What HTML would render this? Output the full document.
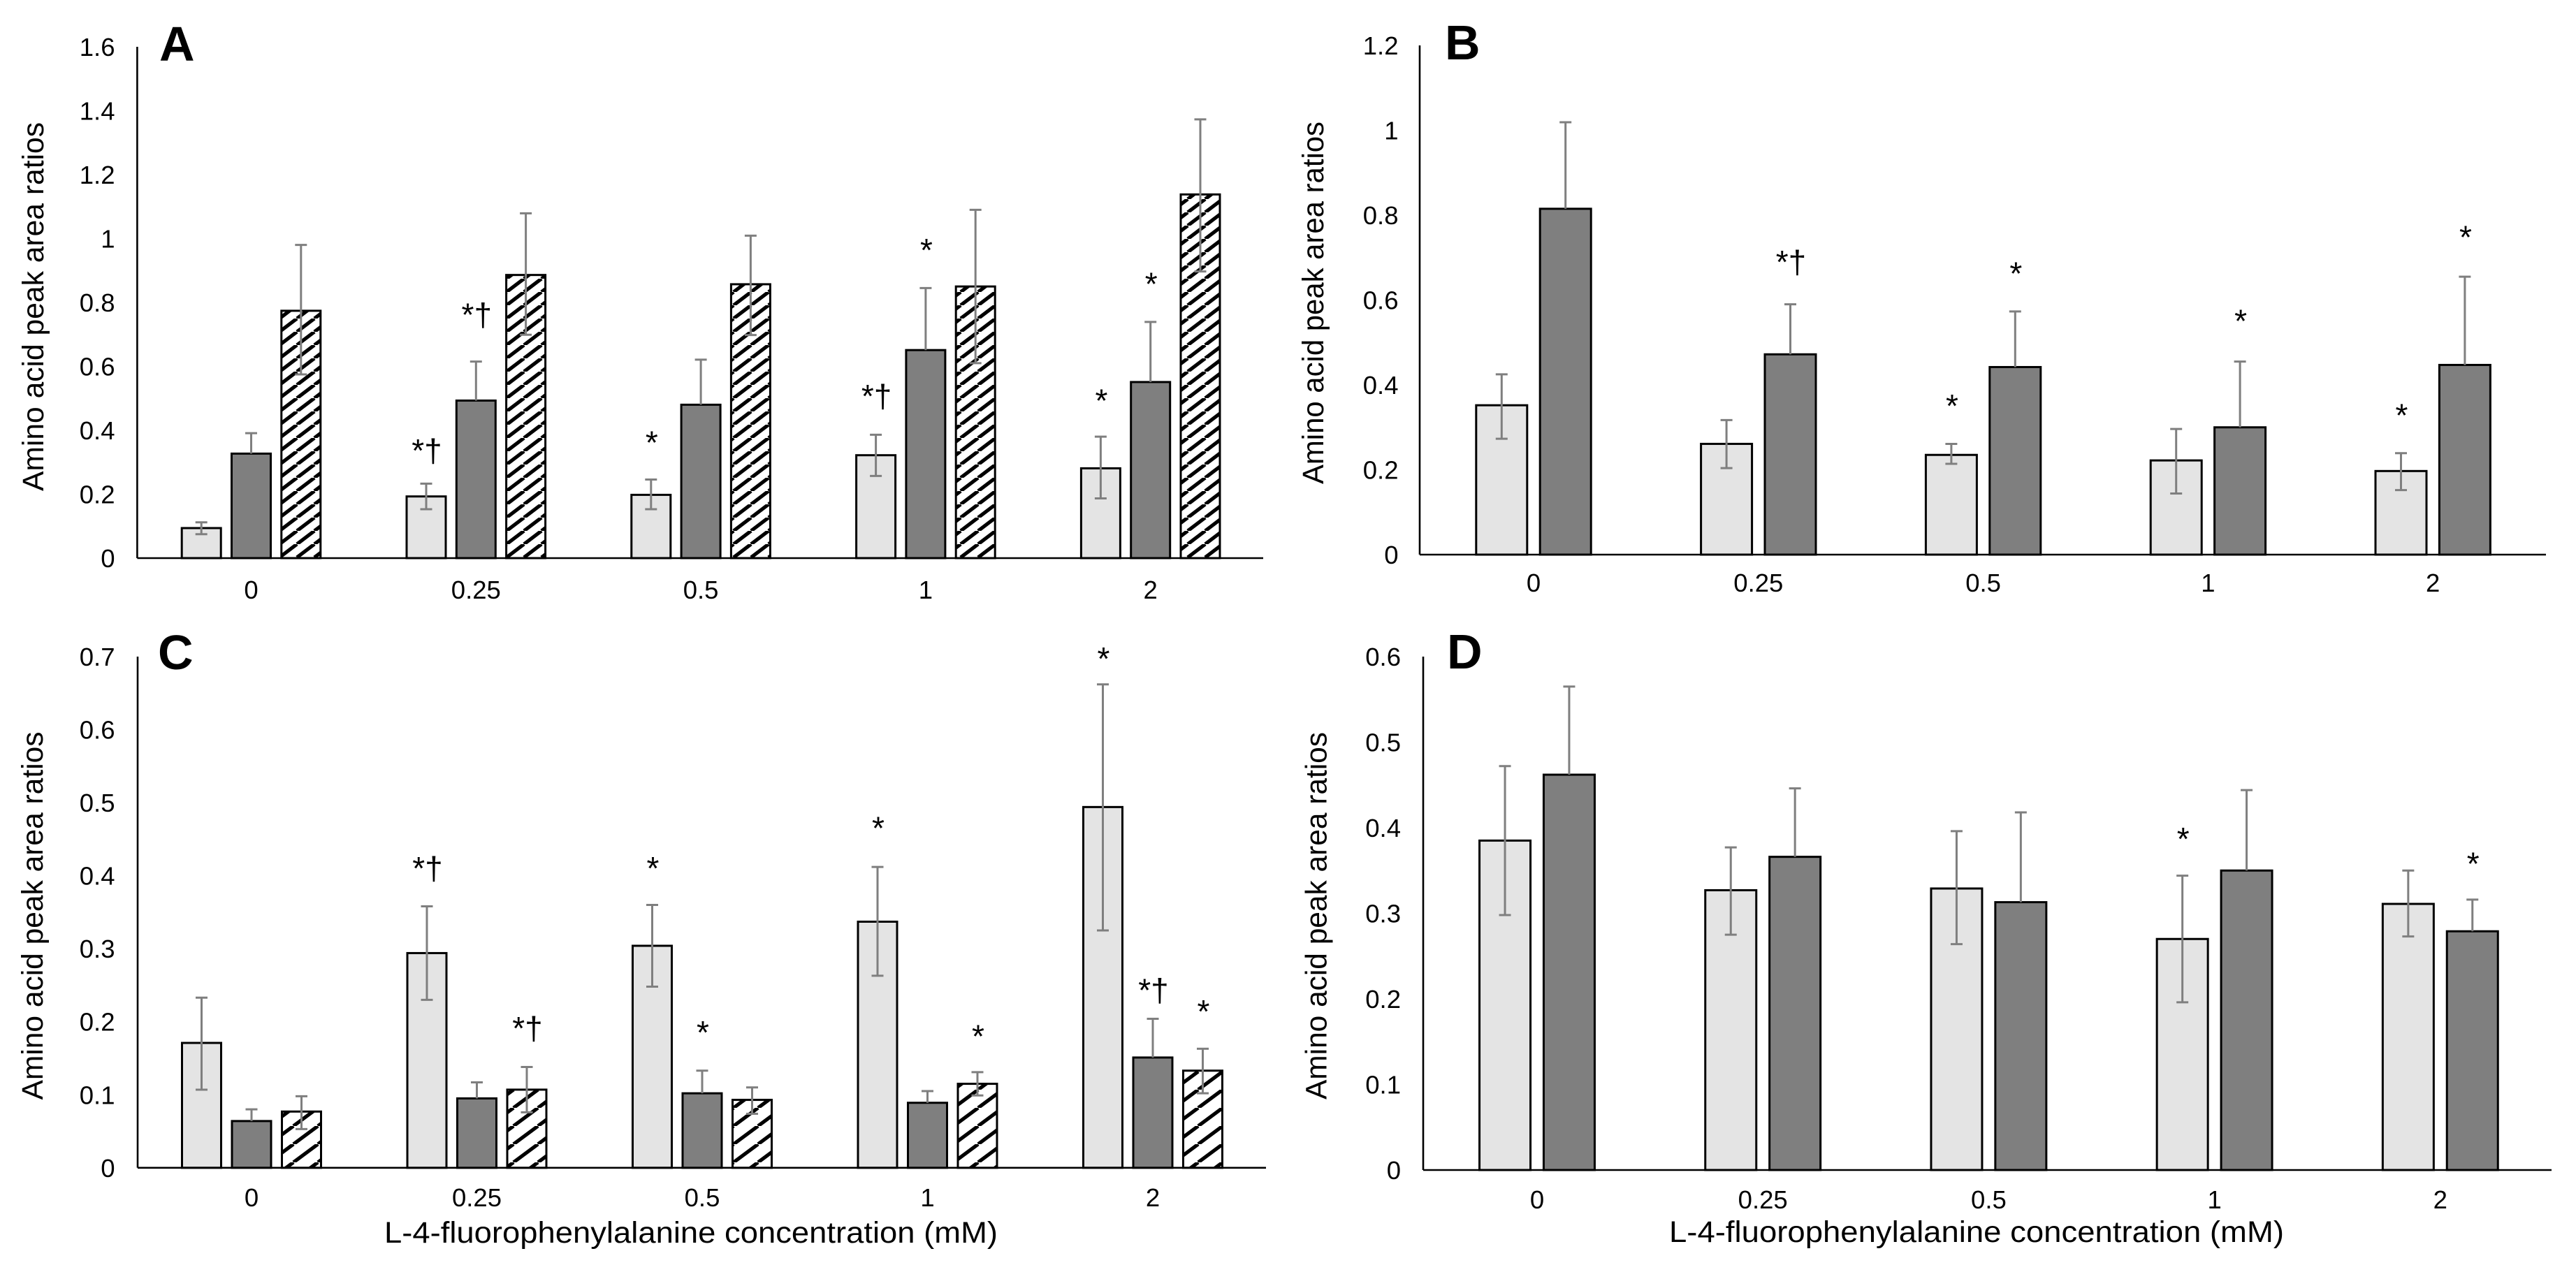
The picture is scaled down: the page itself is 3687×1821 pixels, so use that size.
<!DOCTYPE html>
<html lang="en">
<head>
<meta charset="utf-8">
<title>Amino acid peak area ratios</title>
<style>
html,body{margin:0;padding:0;background:#fff;width:3687px;height:1821px;overflow:hidden}
svg{display:block}
text{font-family:"Liberation Sans",Arial,sans-serif;fill:#000}
</style>
</head>
<body>
<svg id="figure" xmlns="http://www.w3.org/2000/svg" width="3687" height="1821" viewBox="0 0 3687 1821">
<rect x="0" y="0" width="3687" height="1821" fill="#fff"/>
<defs>
<pattern id="hatch-top" patternUnits="userSpaceOnUse" width="25" height="19"><rect width="25" height="19" fill="#fff"/><path d="M-25,19 L0,0 M0,19 L25,0 M25,19 L50,0" stroke="#000" stroke-width="5.2" fill="none"/></pattern>
<pattern id="hatch-bottom" patternUnits="userSpaceOnUse" width="35" height="26"><rect width="35" height="26" fill="#fff"/><path d="M-35,26 L0,0 M0,26 L35,0 M35,26 L70,0" stroke="#000" stroke-width="5.2" fill="none"/></pattern>
</defs>
</svg>
<script>
// Shared category labels
const concentrations = ['0', '0.25', '0.5', '1', '2'];

// Panel A
const aTicks = ['0', '0.2', '0.4', '0.6', '0.8', '1', '1.2', '1.4', '1.6'];
const aLight = [0.094, 0.193, 0.198, 0.322, 0.281];
const aLightHi = [0.112, 0.233, 0.246, 0.386, 0.380];
const aLightLo = [0.075, 0.153, 0.153, 0.257, 0.187];
const aDark = [0.327, 0.493, 0.480, 0.651, 0.551];
const aDarkHi = [0.391, 0.615, 0.621, 0.845, 0.739];
const aHatch = [0.774, 0.886, 0.857, 0.850, 1.138];
const aHatchHi = [0.980, 1.079, 1.009, 1.090, 1.373];
const aHatchLo = [0.575, 0.699, 0.698, 0.610, 0.897];
const aMarks = ['', '*†', '*', '*†', '*'];
const aMarkLevels = [0, 0.341, 0.373, 0.511, 0.504];
const aDarkMarks = ['', '*†', '', '*', '*'];
const aDarkMarkLevels = [0, 0.766, 0, 0.975, 0.869];

// Panel B
const bTicks = ['0', '0.2', '0.4', '0.6', '0.8', '1', '1.2'];
const bLight = [0.352, 0.261, 0.235, 0.222, 0.197];
const bLightHi = [0.425, 0.317, 0.261, 0.296, 0.239];
const bLightLo = [0.273, 0.204, 0.214, 0.144, 0.152];
const bDark = [0.815, 0.472, 0.442, 0.300, 0.447];
const bDarkHi = [1.019, 0.590, 0.573, 0.455, 0.655];
const bMarks = ['', '', '*', '', '*'];
const bMarkLevels = [0, 0, 0.359, 0, 0.337];
const bDarkMarks = ['', '*†', '*', '*', '*'];
const bDarkMarkLevels = [0, 0.693, 0.671, 0.559, 0.756];

// Panel C
const cTicks = ['0', '0.1', '0.2', '0.3', '0.4', '0.5', '0.6', '0.7'];
const cLight = [0.171, 0.294, 0.304, 0.337, 0.494];
const cLightHi = [0.233, 0.358, 0.360, 0.412, 0.662];
const cLightLo = [0.107, 0.230, 0.248, 0.263, 0.325];
const cDark = [0.064, 0.095, 0.102, 0.089, 0.151];
const cDarkHi = [0.080, 0.117, 0.133, 0.105, 0.204];
const cHatch = [0.077, 0.107, 0.093, 0.115, 0.133];
const cHatchHi = [0.098, 0.138, 0.110, 0.131, 0.163];
const cHatchLo = [0.053, 0.076, 0.074, 0.099, 0.102];
const cMarks = ['', '*†', '*', '*', '*'];
const cMarkLevels = [0, 0.412, 0.415, 0.470, 0.702];
const cDarkMarks = ['', '', '*', '', '*†'];
const cDarkMarkLevels = [0, 0, 0.190, 0, 0.245];
const cHatchMarks = ['', '*†', '', '*', '*'];
const cHatchMarkLevels = [0, 0.193, 0, 0.185, 0.219];

// Panel D
const dTicks = ['0', '0.1', '0.2', '0.3', '0.4', '0.5', '0.6'];
const dLight = [0.385, 0.327, 0.329, 0.270, 0.311];
const dLightHi = [0.472, 0.377, 0.396, 0.344, 0.350];
const dLightLo = [0.298, 0.275, 0.264, 0.196, 0.273];
const dDark = [0.462, 0.366, 0.313, 0.350, 0.279];
const dDarkHi = [0.565, 0.446, 0.418, 0.444, 0.316];
const dMarks = ['', '', '', '*', ''];
const dMarkLevels = [0, 0, 0, 0.391, 0];
const dDarkMarks = ['', '', '', '', '*'];
const dDarkMarkLevels = [0, 0, 0, 0, 0.362];

const svg = document.getElementById('figure');
const NS = 'http://www.w3.org/2000/svg';
function make(tag, attrs, parent) {
  const el = document.createElementNS(NS, tag);
  for (const k in attrs) el.setAttribute(k, attrs[k]);
  parent.appendChild(el);
  return el;
}

const charts = [
  { id: 'a', letter: 'A', letterX: 228, letterY: 87, axisX: 196.4, top: 67, base: 799, end: 1808, tickRight: 164.5, first: 359.5, step: 321.8, barStep: 71.3, barW: 56, labelDy: 58, yMax: 1.6, ticks: aTicks, titleX: 62, titleY: 439, titleLen: 528, hatchId: 'hatch-top',
    series: [
      { key: 'light', fill: '#e4e4e4', vals: aLight, hi: aLightHi, lo: aLightLo, marks: aMarks, levels: aMarkLevels },
      { key: 'dark', fill: '#7f7f7f', vals: aDark, hi: aDarkHi, lo: null, marks: aDarkMarks, levels: aDarkMarkLevels },
      { key: 'hatched', fill: 'url(#hatch-top)', vals: aHatch, hi: aHatchHi, lo: aHatchLo, marks: null, levels: null }
    ] },
  { id: 'b', letter: 'B', letterX: 2068, letterY: 85, axisX: 2032, top: 65, base: 794, end: 3644, tickRight: 2001.5, first: 2195, step: 321.8, barStep: 91.4, barW: 73, labelDy: 53, yMax: 1.2, ticks: bTicks, titleX: 1893.8, titleY: 433.5, titleLen: 519,
    series: [
      { key: 'light', fill: '#e4e4e4', vals: bLight, hi: bLightHi, lo: bLightLo, marks: bMarks, levels: bMarkLevels },
      { key: 'dark', fill: '#7f7f7f', vals: bDark, hi: bDarkHi, lo: null, marks: bDarkMarks, levels: bDarkMarkLevels }
    ] },
  { id: 'c', letter: 'C', letterX: 226, letterY: 958, axisX: 197, top: 940, base: 1671.8, end: 1812, tickRight: 164.5, first: 360, step: 322.5, barStep: 71.5, barW: 56, labelDy: 55, yMax: 0.7, ticks: cTicks, titleX: 61, titleY: 1311, titleLen: 527,
    series: [
      { key: 'light', fill: '#e4e4e4', vals: cLight, hi: cLightHi, lo: cLightLo, marks: cMarks, levels: cMarkLevels },
      { key: 'dark', fill: '#7f7f7f', vals: cDark, hi: cDarkHi, lo: null, marks: cDarkMarks, levels: cDarkMarkLevels },
      { key: 'hatched', fill: 'url(#hatch-bottom)', vals: cHatch, hi: cHatchHi, lo: cHatchLo, marks: cHatchMarks, levels: cHatchMarkLevels }
    ] },
  { id: 'd', letter: 'D', letterX: 2071, letterY: 957, axisX: 2037, top: 940, base: 1675, end: 3652, tickRight: 2005, first: 2200, step: 323.2, barStep: 91.9, barW: 73, labelDy: 55, yMax: 0.6, ticks: dTicks, titleX: 1898.7, titleY: 1311, titleLen: 526,
    series: [
      { key: 'light', fill: '#e4e4e4', vals: dLight, hi: dLightHi, lo: dLightLo, marks: dMarks, levels: dMarkLevels },
      { key: 'dark', fill: '#7f7f7f', vals: dDark, hi: dDarkHi, lo: null, marks: dDarkMarks, levels: dDarkMarkLevels }
    ] }
];

function drawChart(c) {
  const g = make('g', {}, svg);
  
  
  const yScale = v => c.base - (v / c.yMax) * (c.base - c.top);
  const groupX = i => c.first + i * c.step;
  const barX = (i, s) => groupX(i) + (s - (c.series.length - 1) / 2) * c.barStep;

  // bars
  c.series.forEach((s, si) => {
    s.vals.forEach((v, i) => {
      const bar = make('rect', { x: barX(i, si) - c.barW / 2, y: yScale(v), width: c.barW, height: c.base - yScale(v), fill: s.fill, stroke: '#000', 'stroke-width': 3 }, g);
      
      
    });
  });

  // error bars
  c.series.forEach((s, si) => {
    s.vals.forEach((v, i) => {
      const x = barX(i, si);
      const yHi = yScale(s.hi[i]);
      const yLo = s.lo ? yScale(s.lo[i]) : yScale(v);
      const err = make('path', { d: 'M' + x + ',' + yLo + ' L' + x + ',' + yHi + ' M' + (x - 8.5) + ',' + yHi + ' L' + (x + 8.5) + ',' + yHi + (s.lo ? ' M' + (x - 8.5) + ',' + yLo + ' L' + (x + 8.5) + ',' + yLo : ''), stroke: '#7f7f7f', 'stroke-width': 3, fill: 'none' }, g);
      
      
    });
  });

  // axes
  const yAxis = make('line', { x1: c.axisX, y1: c.top, x2: c.axisX, y2: c.base, stroke: '#000', 'stroke-width': 2.6 }, g);
  
  
  const xAxis = make('line', { x1: c.axisX, y1: c.base, x2: c.end, y2: c.base, stroke: '#000', 'stroke-width': 2.6 }, g);
  
  

  // y tick labels
  c.ticks.forEach(t => {
    const el = make('text', { x: c.tickRight, y: yScale(Number(t)) + 13, 'text-anchor': 'end', 'font-size': 36.5 }, g);
    el.textContent = t;
    
    
  });

  // x tick labels
  concentrations.forEach((t, i) => {
    const el = make('text', { x: groupX(i), y: c.base + c.labelDy, 'text-anchor': 'middle', 'font-size': 36.5 }, g);
    el.textContent = t;
    
    
  });

  // significance marks
  c.series.forEach((s, si) => {
    if (!s.marks) return;
    s.marks.forEach((m, i) => {
      if (!m) return;
      const el = make('text', { x: barX(i, si) + 1, y: yScale(s.levels[i]) + (m.length > 1 ? 18 : 21), 'text-anchor': 'middle', 'font-size': 46 }, g);
      el.textContent = m;
      
      
    });
  });

  // y axis title
  const title = make('text', { transform: 'translate(' + c.titleX + ',' + c.titleY + ') rotate(-90)', 'text-anchor': 'middle', 'font-size': 42.6, textLength: c.titleLen, lengthAdjust: 'spacingAndGlyphs' }, g);
  title.textContent = 'Amino acid peak area ratios';
  
  

  // panel letter
  const letter = make('text', { x: c.letterX, y: c.letterY, 'font-size': 70, 'font-weight': 700 }, g);
  letter.textContent = c.letter;
  
  
}

charts.forEach(drawChart);

const xTitleC = make('text', { x: 550, y: 1779, 'font-size': 42.6, textLength: 878, lengthAdjust: 'spacingAndGlyphs' }, svg);
xTitleC.textContent = 'L-4-fluorophenylalanine concentration (mM)';


const xTitleD = make('text', { x: 2389, y: 1778, 'font-size': 42.6, textLength: 880, lengthAdjust: 'spacingAndGlyphs' }, svg);
xTitleD.textContent = 'L-4-fluorophenylalanine concentration (mM)';


</script>
</body>
</html>
